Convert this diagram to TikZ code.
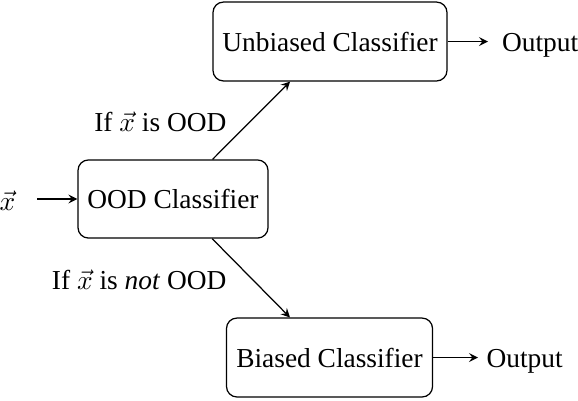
\documentclass[tikz,border=0pt]{standalone}
\usepackage{fontspec}
\setmainfont{Liberation Serif}
\usetikzlibrary{arrows}
\begin{document}
\begin{tikzpicture}[x=0.365pt,y=-0.365pt,
  box/.style={draw,rounded corners=3.8pt,line width=0.45pt,inner sep=0pt,align=center},
  conn/.style={-stealth,line width=0.45pt},
  lbl/.style={inner sep=0pt}]
\useasboundingbox (0,0) rectangle (578,400);
\node[box,minimum width=69.35pt,minimum height=28.5pt] (ood) at (173,199) {OOD Classifier};
\node[box,minimum width=85.4pt,minimum height=28.8pt] (unb) at (330,41.5) {Unbiased Classifier};
\node[box,minimum width=75.2pt,minimum height=28.8pt] (bia) at (329.5,357.5) {Biased Classifier};
\node[lbl] (x) at (7.5,201) {$\vec{x}$};
\node[lbl,anchor=base west] (out1) at (501.5,0 |- unb.base) {Output};
\node[lbl,anchor=base west] (out2) at (486,0 |- bia.base) {Output};
\coordinate (xs) at (37,199);
\draw[conn] (xs) -- (ood);
\draw[conn] (ood) -- (unb);
\draw[conn] (ood) -- (bia);
\draw[conn] (unb) -- (unb.east -| 488,0);
\draw[conn] (bia) -- (bia.east -| 478,0);
\node[lbl,anchor=east] (l1) at (227,122) {If $\vec{x}$ is OOD};
\node[lbl,anchor=east] (l2) at (227,280) {If $\vec{x}$ is \textit{not} OOD};
\end{tikzpicture}
\end{document}
